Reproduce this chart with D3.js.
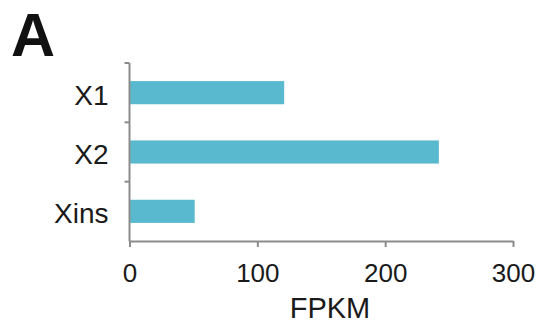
<!DOCTYPE html>
<html>
<head>
<meta charset="utf-8">
<script src="https://cdn.jsdelivr.net/npm/d3@7"></script>
<style>
  html, body { margin: 0; padding: 0; background: #fff; }
  svg { display: block; font-family: "Liberation Sans", Arial, Helvetica, sans-serif; }
</style>
</head>
<body>
<svg id="chart" width="539" height="329"></svg>
<script>
// Expression levels per transcript
const categories = ["X1", "X2", "Xins"];
const fpkm = [121, 242, 51];
const xTicks = [0, 100, 200, 300];
const xTitle = "FPKM";
const panelLabel = "A";

const svg = d3.select("#chart");
const margin = { left: 129.5, right: 26, top: 63, bottom: 88 };
const W = 539, H = 329;

const x = d3.scaleLinear().domain([0, 300]).range([margin.left, W - margin.right]);
const y = d3.scaleBand().domain(categories).range([margin.top, H - margin.bottom]).paddingInner(0.61).paddingOuter(0.305);

const axisColor = "#8c8c8c";
const textColor = "#1a1a1a";

// bars
svg.append("g").selectAll("rect")
  .data(categories)
  .join("rect")
  .attr("x", x(0))
  .attr("y", d => y(d))
  .attr("width", (d, i) => x(fpkm[i]) - x(0))
  .attr("height", y.bandwidth())
  .attr("fill", "#59b9cf");

// x axis
const xAxis = svg.append("g")
  .attr("transform", `translate(0,${H - margin.bottom})`)
  .call(d3.axisBottom(x).tickValues(xTicks).tickSize(6).tickPadding(16).tickSizeOuter(0));
xAxis.select(".domain").attr("stroke", axisColor).attr("stroke-width", 2);
xAxis.selectAll(".tick line").attr("stroke", axisColor).attr("stroke-width", 2);
xAxis.selectAll(".tick text").attr("fill", textColor).attr("font-size", 26).attr("dy", "0.72em");

// y axis: line plus ticks at the band boundaries
const yAxisG = svg.append("g");
yAxisG.append("line")
  .attr("x1", x(0)).attr("x2", x(0))
  .attr("y1", margin.top).attr("y2", H - margin.bottom)
  .attr("stroke", axisColor).attr("stroke-width", 2);
const stepEdges = d3.range(categories.length).map(i => margin.top + i * y.step());
yAxisG.selectAll("line.tick")
  .data(stepEdges)
  .join("line")
  .attr("class", "tick")
  .attr("x1", x(0) - 5).attr("x2", x(0))
  .attr("y1", d => d).attr("y2", d => d)
  .attr("stroke", axisColor).attr("stroke-width", 2);

// category labels
yAxisG.selectAll("text")
  .data(categories)
  .join("text")
  .attr("x", x(0) - 21)
  .attr("y", d => y(d) + y.bandwidth() / 2 + 12)
  .attr("text-anchor", "end")
  .attr("font-size", 28)
  .attr("fill", textColor)
  .text(d => d);

// axis title
svg.append("text")
  .attr("x", 330).attr("y", 318)
  .attr("text-anchor", "middle")
  .attr("font-size", 29)
  .attr("fill", textColor)
  .text(xTitle);

// panel letter
svg.append("text")
  .attr("x", 11).attr("y", 56)
  .attr("font-size", 61)
  .attr("font-weight", "bold")
  .attr("fill", "#111")
  .text(panelLabel);
</script>
</body>
</html>
